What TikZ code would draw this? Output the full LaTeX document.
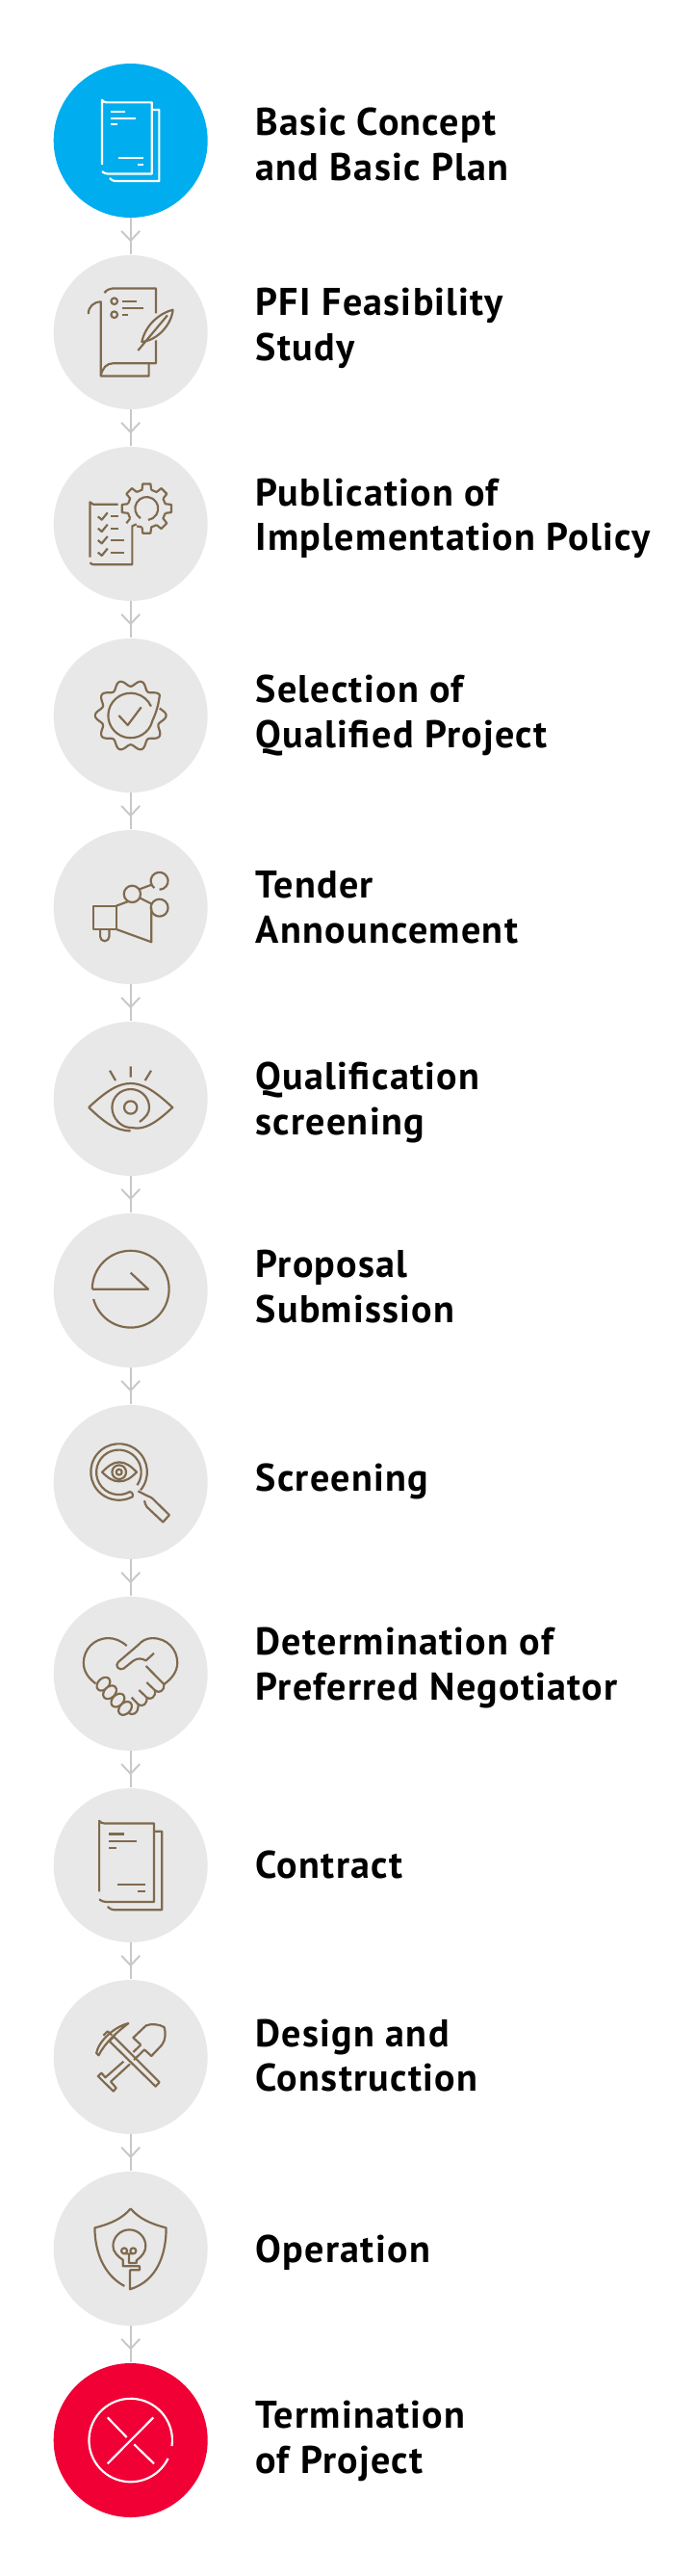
\documentclass[tikz,border=0pt]{standalone}
\usepackage{fontspec}
\setmainfont{PT Sans}[LetterSpace=3.2]
\usetikzlibrary{arrows.meta,decorations.markings,shapes.geometric}
\definecolor{stepgray}{HTML}{E8E8E8}
\definecolor{stepblue}{HTML}{00AEEF}
\definecolor{stepred}{HTML}{F00035}
\definecolor{iconbrown}{HTML}{806A4E}
\definecolor{flowgray}{HTML}{C8C8C8}
\tikzset{
	stepcircle/.style={circle, minimum size=1.6cm, inner sep=0pt, fill=#1},
	steplabel/.style={anchor=base west, align=left, inner sep=0pt, font=\fontsize{11.4}{13.28}\selectfont\bfseries},
	flowline/.style={draw=flowgray, line width=0.55pt, postaction={decorate}, decoration={markings, mark=at position 0.66 with {\arrow[flowgray, line width=0.55pt]{Straight Barb[length=1mm, width=1.9mm]}}}},
	icon/.style={shift={(#1)}, x=0.00333cm, y=-0.00333cm, line width=0.62pt, iconbrown, line join=round},
	docpages/.pic={
		\draw (-98,82) -- (-98,-139) .. controls (-94,-133) and (-88,-131) .. (-82,-131) -- (73,-131) -- (73,114) -- (-78,114) .. controls (-86,114) and (-92,111) .. (-98,106);
		\draw (73,-106) -- (98,-106) -- (98,139) -- (-52,139) .. controls (-60,139) and (-66,135) .. (-72,129);
		\draw (-67,-98) -- (-20,-98) (-67,-76) -- (18,-76) (-67,-55) -- (-45,-55);
		\draw (-41,60) -- (45,60) (23,82) -- (45,82);
	}
}
\begin{document}
\begin{tikzpicture}
	\useasboundingbox (0,0) rectangle (7.22,-26.75);

	% --- STEP CIRCLES ---
	\node[stepcircle=stepblue] (step1) at (1.357,-1.46) {};
	\foreach \i/\y in {2/3.45, 3/5.44, 4/7.43, 5/9.42, 6/11.41, 7/13.40, 8/15.39, 9/17.38, 10/19.37, 11/21.36, 12/23.35} {
		\node[stepcircle=stepgray] (step\i) at (1.357,-\y) {};
	}
	\node[stepcircle=stepred] (step13) at (1.357,-25.34) {};

	% --- CONNECTORS ---
	\foreach \i [evaluate=\i as \j using int(\i+1)] in {1,...,12} {
		\draw[flowline] (step\i) ++(0,-0.8) -- (step\j.north);
	}

	% --- LABELS ---
	\node[steplabel] (label1) at (2.65,-1.873) {Basic Concept\\and Basic Plan};
	\node[steplabel] (label2) at (2.65,-3.74) {PFI Feasibility\\Study};
	\node[steplabel] (label3) at (2.65,-5.717) {Publication of\\Implementation Policy};
	\node[steplabel] (label4) at (2.65,-7.765) {Selection of\\Qualified Project};
	\node[steplabel] (label5) at (2.65,-9.793) {Tender\\Announcement};
	\node[steplabel] (label6) at (2.65,-11.78) {Qualification\\screening};
	\node[steplabel] (label7) at (2.65,-13.736) {Proposal\\Submission};
	\node[steplabel] (label8) at (2.65,-15.488) {Screening};
	\node[steplabel] (label9) at (2.65,-17.65) {Determination of\\Preferred Negotiator};
	\node[steplabel] (label10) at (2.65,-19.50) {Contract};
	\node[steplabel] (label11) at (2.65,-21.717) {Design and\\Construction};
	\node[steplabel] (label12) at (2.65,-23.49) {Operation};
	\node[steplabel] (label13) at (2.65,-25.68) {Termination\\of Project};

	% --- ICON 1: PAGES (WHITE) ---
	\begin{scope}[icon=step1, white]
		\pic[scale=0.91] {docpages};
	\end{scope}

	% --- ICON 2: PAGE AND QUILL ---
	\begin{scope}[icon=step2]
		\draw (-82,-123) .. controls (-75,-132) and (-65,-137) .. (-55,-137) -- (79,-137) -- (79,-59);
		\draw (79,25) -- (79,97) -- (-55,97) .. controls (-75,97) and (-88,112) .. (-93,135);
		\draw (-132,-57) .. controls (-132,-80) and (-115,-95) .. (-93,-95) -- (-93,137) -- (57,137) -- (57,97);
		\draw (-51,-97) circle (10) (-51,-55) circle (10);
		\draw (-27,-97) -- (20,-97) (-27,-76) -- (41,-76) (-27,-55) -- (-7,-55);
		\draw (132,-70) .. controls (85,-58) and (45,-18) .. (35,30) .. controls (85,25) and (128,-25) .. (132,-70) -- cycle;
		\draw (23,57) -- (115,-53);
	\end{scope}

	% --- ICON 3: CHECKLIST AND GEAR ---
	\begin{scope}[icon=step3]
		\draw (-127,104) -- (-127,-68) -- (-117,-61) -- (-39,-61);
		\draw (-127,121) .. controls (-123,125) and (-120,127) .. (-115,127) -- (5,127) -- (5,7) -- (18,1);
		\foreach \y in {-23, 14, 51, 89} {
			\draw (-102,\y) -- (-90,\y+10) -- (-72,\y-12);
		}
		\draw (-61,-23) -- (-39,-23) (-61,14) -- (-39,14) (-61,51) -- (-19,51) (-61,89) -- (-19,89);
		\begin{scope}[shift={(50,-48)}]
			\foreach \a in {0,45,90,180,225,270,315} {
				\draw (\a-31:60) -- (\a-14:60) -- (\a-9:78) -- (\a+9:78) -- (\a+14:60);
			}
			\draw (135+9:78) -- (135+14:60) (104:60) -- (119:63);
			\draw (122:36) arc[start angle=122, end angle=442, radius=36];
		\end{scope}
	\end{scope}

	% --- ICON 4: BADGE ---
	\begin{scope}[icon=step4]
		\draw plot[domain=-14:325, samples=140, smooth] ({\x}:{101+10*cos(10*\x)}) .. controls (85,-20) and (75,0) .. (14:70) arc[start angle=14, end angle=336, radius=70];
		\draw (-37,0) -- (-9,30) -- (33,-26);
	\end{scope}

	% --- ICON 5: MEGAPHONE ---
	\begin{scope}[icon=step5]
		\draw (-117,-4) rectangle (-45,69);
		\draw (-45,-4) -- (-7,-18) (-45,69) -- (65,109) -- (65,2);
		\draw (-95,69) -- (-95,92) arc[start angle=180, end angle=0, radius=14] -- (-67,69);
		\draw (5,-41) circle (26) (90,2) circle (27);
		\draw (74,-60) arc[start angle=126, end angle=450, radius=27];
		\draw (28,-56) -- (68,-71) (28,-29) -- (68,-9);
	\end{scope}

	% --- ICON 6: EYE ---
	\begin{scope}[icon=step6]
		\draw (-131,27) .. controls (-70,-30) and (-35,-48) .. (0,-48) .. controls (35,-48) and (70,-30) .. (131,27) .. controls (90,65) and (55,92) .. (20,92) -- (0,90) .. controls (-30,90) and (-58,60) .. (-58,27) .. controls (-58,-5) and (-32,-30) .. (0,-30) .. controls (32,-30) and (58,-5) .. (58,27) .. controls (58,45) and (50,55) .. (28,72);
		\draw (-131,27) .. controls (-85,70) and (-50,100) .. (0,100);
		\draw (0,27) circle (20);
		\draw (-65,-88) -- (-47,-57) (0,-101) -- (0,-67) (64,-88) -- (45,-57);
	\end{scope}

	% --- ICON 7: CLOCK ---
	\begin{scope}[icon=step7]
		\draw (-120,-4) arc[start angle=180, end angle=525, radius=120];
		\draw (-120,-4) -- (55,-4) -- (0,-55);
	\end{scope}

	% --- ICON 8: MAGNIFIER AND EYE ---
	\begin{scope}[icon=step8]
		\draw (31,25) arc[start angle=40, end angle=-295, radius=88] .. controls (10,49) and (9,32) .. (-2,30) arc[start angle=60, end angle=395, radius=70];
		\draw (-89,-31) .. controls (-70,-50) and (-55,-62) .. (-36,-62) .. controls (-15,-62) and (0,-50) .. (19,-31) .. controls (0,-12) and (-15,-2) .. (-36,-2) .. controls (-55,-2) and (-70,-12) .. (-89,-31) -- cycle;
		\draw (-36,-31) circle (22) (-36,-31) circle (9);
		\draw (23,28) -- (50,42) .. controls (58,45) and (64,48) .. (68,51) -- (121,103) -- (101,125) -- (51,78) .. controls (46,72) and (45,65) .. (43,58);
	\end{scope}

	% --- ICON 9: HANDSHAKE ---
	\begin{scope}[icon=step9]
		\draw (-12,-87) .. controls (-30,-103) and (-50,-111) .. (-69,-111) .. controls (-115,-111) and (-147,-75) .. (-147,-34) .. controls (-147,-5) and (-130,15) .. (-109,31);
		\draw (73,-64) -- (48,-41) .. controls (35,-48) and (22,-50) .. (8,-40) -- (-22,-16) .. controls (-35,-8) and (-52,-25) .. (-38,-37) -- (23,-89) .. controls (35,-103) and (50,-111) .. (68,-111) .. controls (115,-111) and (146,-75) .. (146,-34) .. controls (146,-8) and (130,15) .. (104,33);
		\draw (48,-24) -- (104,33) .. controls (108,52) and (88,64) .. (76,52) -- (50,27);
		\draw (76,52) .. controls (80,72) and (62,85) .. (50,74) -- (26,51);
		\draw (50,74) .. controls (54,94) and (36,106) .. (24,96) -- (3,74);
		\draw (24,96) .. controls (25,125) and (5,133) .. (-8,122);
		\foreach \x/\y in {-85/32, -65/58, -40/83, -17/108} {
			\draw[fill=stepgray, rotate around={45:(\x,\y)}] (\x,\y) ellipse [x radius=24, y radius=17];
		}
	\end{scope}

	% --- ICON 10: PAGES ---
	\begin{scope}[icon=step10]
		\pic {docpages};
	\end{scope}

	% --- ICON 11: PICK AND SHOVEL ---
	\begin{scope}[icon=step11]
		\draw (-67,-50) -- (78,92) -- (90,79) -- (-52,-63) -- cycle;
		\draw (-107,-12) .. controls (-100,-50) and (-50,-95) .. (-7,-105) .. controls (-40,-80) and (-80,-45) .. (-100,-5) -- cycle;
		\draw (-85,-67) -- (-72,-80) -- (-58,-68);
		\draw (32,-38) -- (8,-60) -- (48,-98) .. controls (65,-105) and (90,-102) .. (105,-93) .. controls (110,-75) and (110,-55) .. (98,-38) -- (65,-3) -- (43,-23) -- (28,-8) -- (10,9);
		\draw (32,-38) -- (8,-15) (-22,14) -- (-79,64) -- (-91,50) -- (-102,60) -- (-54,107) -- (-45,97) -- (-62,77) -- (-2,22);
	\end{scope}

	% --- ICON 12: SHIELD AND BULB ---
	\begin{scope}[icon=step12]
		\draw (0,-125) .. controls (-25,-95) and (-60,-78) .. (-112,-65) .. controls (-112,15) and (-80,85) .. (-19,117);
		\draw (0,-125) .. controls (25,-95) and (60,-78) .. (111,-65) .. controls (111,15) and (85,100) .. (-2,127) -- (-2,67) -- (28,67) -- (28,55) -- (-24,55) -- (-24,35) .. controls (-40,25) and (-55,10) .. (-55,-8) .. controls (-55,-36) and (-32,-59) .. (-4,-59) .. controls (24,-59) and (47,-36) .. (47,-8) .. controls (47,10) and (35,25) .. (18,37) -- (18,45) -- (-5,45) -- (-5,16);
		\draw (-20,7) circle (9) (8,7) circle (9) (-20,16) -- (8,16);
	\end{scope}

	% --- ICON 13: CROSS IN RING (WHITE) ---
	\begin{scope}[icon=step13, white]
		\draw (8:130) arc[start angle=8, end angle=-334, radius=130];
		\draw (-72,73) -- (71,-71) (-72,-71) -- (-12,-9) (11,13) -- (73,73);
	\end{scope}
\end{tikzpicture}
\end{document}
